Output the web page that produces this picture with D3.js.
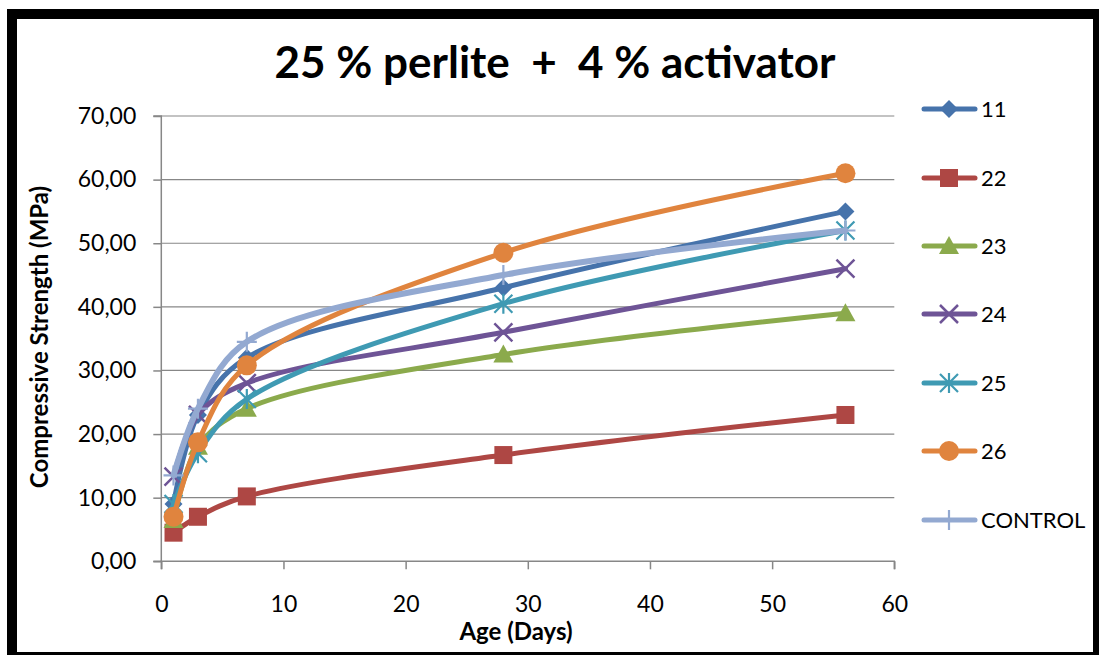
<!DOCTYPE html>
<html>
<head>
<meta charset="utf-8">
<script src="https://cdn.jsdelivr.net/npm/d3@7"></script>
<style>
  html, body { margin: 0; padding: 0; background: #ffffff; }
  svg { display: block; }
</style>
</head>
<body>
<svg id="chart" width="1099" height="655"></svg>
<script>
// Curing ages (days) and compressive strength results (MPa)
const ages = [1, 3, 7, 28, 56];
const seriesNames = ["11", "22", "23", "24", "25", "26", "CONTROL"];
const s11 = [9.0, 23.0, 32.0, 43.0, 55.0];
const s22 = [4.5, 7.0, 10.2, 16.7, 23.0];
const s23 = [6.5, 18.0, 24.0, 32.5, 39.0];
const s24 = [13.3, 23.0, 28.0, 36.0, 46.0];
const s25 = [9.0, 17.0, 25.5, 40.5, 52.0];
const s26 = [7.0, 18.7, 30.8, 48.5, 61.0];
const sControl = [13.5, 24.0, 34.5, 45.0, 52.0];
const xTicks = [0, 10, 20, 30, 40, 50, 60];
const yTicks = [0, 10, 20, 30, 40, 50, 60, 70];

const seriesValues = [s11, s22, s23, s24, s25, s26, sControl];
const colors = ["#4673AB", "#AE4744", "#8BAA4C", "#6E5496", "#3F9AB3", "#E0843E", "#93A9D1"];
const markers = ["diamond", "square", "triangle", "x", "star", "circle", "plus"];

const FONT = "Lato, 'Open Sans', 'DejaVu Sans', sans-serif";
const svg = d3.select("#chart");

// chart frame
svg.append("rect")
  .attr("x", 12).attr("y", 14)
  .attr("width", 1086).attr("height", 643)
  .attr("fill", "#ffffff")
  .attr("stroke", "#000000")
  .attr("stroke-width", 10);

const x = d3.scaleLinear().domain([0, 60]).range([161.3, 894.3]);
const y = d3.scaleLinear().domain([0, 70]).range([561.3, 116]);

// horizontal gridlines
svg.append("g")
  .selectAll("line")
  .data(yTicks.filter(d => d > 0))
  .join("line")
  .attr("x1", x(0)).attr("x2", x(60))
  .attr("y1", d => y(d)).attr("y2", d => y(d))
  .attr("stroke", "#878787")
  .attr("stroke-width", 1.2);

const fmt = d => d3.format(".2f")(d).replace(".", ",");

// y axis
const yAxis = svg.append("g")
  .attr("transform", `translate(${x(0)},0)`)
  .call(d3.axisLeft(y).tickValues(yTicks).tickFormat(fmt).tickSize(8).tickPadding(17));

// x axis
const xAxis = svg.append("g")
  .attr("transform", `translate(0,${y(0)})`)
  .call(d3.axisBottom(x).tickValues(xTicks).tickSize(8).tickPadding(26));

[yAxis, xAxis].forEach(g => {
  g.select(".domain").attr("stroke", "#878787").attr("stroke-width", 1.5);
  g.selectAll(".tick line").attr("stroke", "#878787").attr("stroke-width", 1.5);
  g.selectAll(".tick text")
    .attr("fill", "#000000")
    .style("font-family", FONT)
    .style("font-size", "23px");
});
xAxis.select(".domain").attr("d", `M${x(0)},8V0H${x(60)}V8`);
yAxis.select(".domain").attr("d", `M-8,${y(70)}H0V${y(0)}H-8`);

// title
svg.append("text")
  .attr("x", 555).attr("y", 78)
  .attr("text-anchor", "middle")
  .style("white-space", "pre")
  .style("font-family", FONT)
  .style("font-weight", "bold")
  .style("font-size", "44px")
  .text("25 % perlite  +  4 % activator");

// axis titles
svg.append("text")
  .attr("transform", "translate(48,337) rotate(-90)")
  .attr("text-anchor", "middle")
  .style("font-family", FONT)
  .style("font-weight", "bold")
  .style("font-size", "24px")
  .text("Compressive Strength (MPa)");

svg.append("text")
  .attr("x", 516).attr("y", 640)
  .attr("text-anchor", "middle")
  .style("font-family", FONT)
  .style("font-weight", "bold")
  .style("font-size", "24px")
  .text("Age (Days)");

// marker drawing
function drawMarker(g, type, color) {
  const h = 9;
  switch (type) {
    case "diamond":
      g.append("path").attr("d", `M0,${-h}L${h},0L0,${h}L${-h},0Z`).attr("fill", color);
      break;
    case "square":
      g.append("rect").attr("x", -h).attr("y", -h).attr("width", 2 * h).attr("height", 2 * h).attr("fill", color);
      break;
    case "triangle":
      g.append("path").attr("d", `M0,${-h - 1}L${h + 1},${h - 1}L${-h - 1},${h - 1}Z`).attr("fill", color);
      break;
    case "circle":
      g.append("circle").attr("r", 10).attr("fill", color);
      break;
    case "x":
      g.append("path").attr("d", `M${-h},${-h}L${h},${h}M${-h},${h}L${h},${-h}`)
        .attr("stroke", color).attr("stroke-width", 2.5).attr("fill", "none");
      break;
    case "star":
      g.append("path").attr("d", `M${-h},${-h}L${h},${h}M${-h},${h}L${h},${-h}M0,${-h - 1}V${h + 1}`)
        .attr("stroke", color).attr("stroke-width", 2.2).attr("fill", "none");
      break;
    case "plus":
      g.append("path").attr("d", `M0,${-h - 1}V${h + 1}M${-h - 1},0H${h + 1}`)
        .attr("stroke", color).attr("stroke-width", 2.2).attr("fill", "none");
      break;
  }
}

const line = d3.line()
  .x(d => x(d[0]))
  .y(d => y(d[1]))
  .curve(d3.curveCatmullRom.alpha(0.5));

// series: line then markers, each drawn over the previous
seriesValues.forEach((vals, i) => {
  const pts = ages.map((a, j) => [a, vals[j]]);
  const g = svg.append("g").attr("class", "series");
  g.append("path")
    .attr("d", line(pts))
    .attr("fill", "none")
    .attr("stroke", colors[i])
    .attr("stroke-width", i === 6 ? 6 : 5)
    .attr("stroke-linecap", "round")
    .attr("stroke-linejoin", "round");
  pts.forEach(p => {
    const m = g.append("g").attr("transform", `translate(${x(p[0])},${y(p[1])})`);
    drawMarker(m, markers[i], colors[i]);
  });
});

// legend
const legendRows = [109, 178, 246, 314, 383, 451, 520];
seriesNames.forEach((name, i) => {
  const g = svg.append("g").attr("transform", `translate(0,${legendRows[i]})`);
  g.append("line")
    .attr("x1", 924).attr("x2", 975)
    .attr("stroke", colors[i])
    .attr("stroke-width", 5)
    .attr("stroke-linecap", "round");
  const m = g.append("g").attr("transform", "translate(949,0)");
  drawMarker(m, markers[i], colors[i]);
  g.append("text")
    .attr("x", 981).attr("y", 8)
    .style("font-family", FONT)
    .style("font-size", "22px")
    .text(name);
});
</script>
</body>
</html>
